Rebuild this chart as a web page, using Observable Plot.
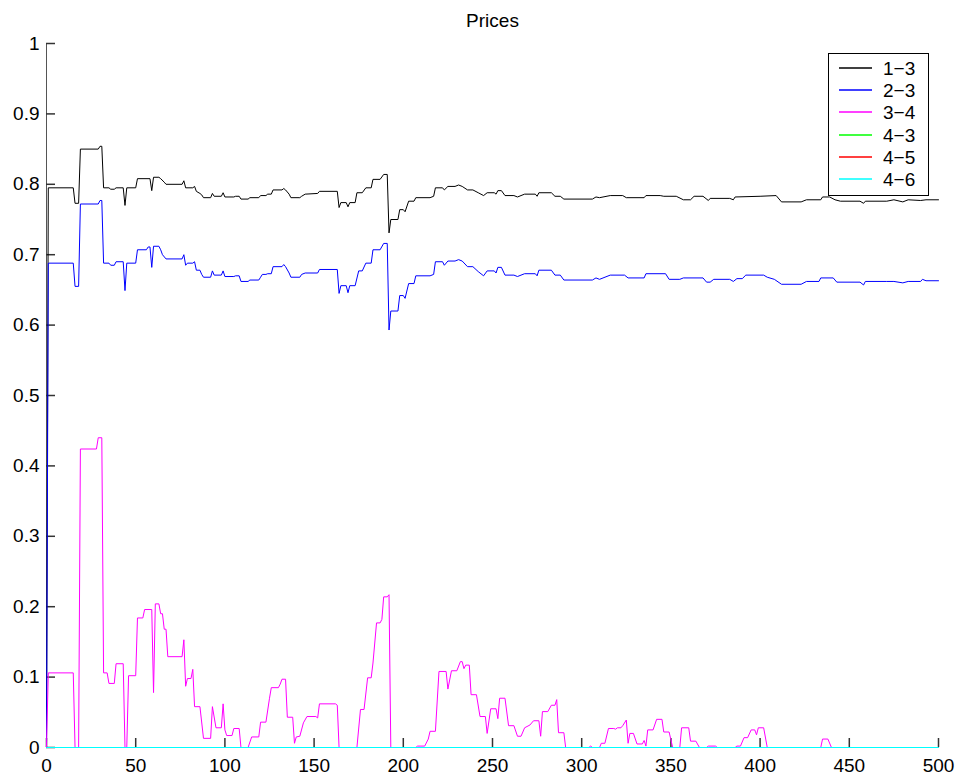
<!DOCTYPE html>
<html><head><meta charset="utf-8">
<script src="https://cdn.jsdelivr.net/npm/d3@7"></script>
<script src="https://cdn.jsdelivr.net/npm/@observablehq/plot@0.6"></script>
<style>
body{margin:0;background:#fff;font-family:"Liberation Sans",Arial,sans-serif;}
#wrap{position:relative;width:960px;height:780px;}
#legend{position:absolute;left:828px;top:53px;}
</style>
</head><body>
<div id="wrap"><div id="chart"></div><div id="legend"></div></div>
<script>
const title = "Prices";
const seriesNames = ["1\u22123","2\u22123","3\u22124","4\u22123","4\u22125","4\u22126"];
const seriesColors = ["#000000","#0000ff","#ff00ff","#00ff00","#ff0000","#00ffff"];
const xTicks = [0,50,100,150,200,250,300,350,400,450,500];
const yTicks = [0,0.1,0.2,0.3,0.4,0.5,0.6,0.7,0.8,0.9,1];

const s13 = [[0,0],[1,0.795],[15,0.795],[16,0.773],[18,0.773],[19,0.850],[29,0.850],[30,0.854],[31,0.854],[32,0.795],[35,0.795],[36,0.793],[38,0.793],[39,0.795],[43,0.795],[44,0.770],[45,0.795],[50,0.795],[51,0.808],[58,0.808],[59,0.791],[60,0.810],[63,0.810],[64,0.808],[66,0.803],[67,0.800],[76,0.800],[77,0.805],[78,0.795],[82,0.795],[83,0.797],[84,0.790],[86,0.787],[87,0.785],[88,0.781],[92,0.781],[93,0.787],[94,0.783],[98,0.783],[99,0.788],[100,0.782],[105,0.782],[106,0.783],[108,0.783],[109,0.779],[113,0.779],[114,0.781],[119,0.781],[120,0.784],[123,0.784],[124,0.786],[126,0.786],[127,0.792],[132,0.792],[133,0.794],[134,0.792],[136,0.786],[137,0.781],[142,0.781],[143,0.783],[145,0.786],[152,0.787],[153,0.790],[163,0.790],[164,0.767],[165,0.774],[168,0.774],[169,0.768],[170,0.774],[173,0.774],[174,0.788],[177,0.788],[179,0.795],[182,0.795],[183,0.807],[187,0.807],[189,0.814],[191,0.814],[192,0.731],[193,0.750],[197,0.750],[198,0.764],[200,0.764],[201,0.761],[203,0.776],[206,0.776],[207,0.781],[215,0.781],[217,0.783],[218,0.795],[222,0.795],[223,0.792],[225,0.797],[229,0.797],[231,0.799],[233,0.797],[236,0.792],[239,0.792],[242,0.788],[245,0.784],[247,0.788],[251,0.788],[252,0.786],[253,0.791],[255,0.791],[257,0.784],[262,0.784],[264,0.782],[268,0.786],[274,0.786],[275,0.783],[276,0.788],[283,0.788],[285,0.783],[288,0.783],[290,0.779],[306,0.779],[308,0.782],[310,0.781],[316,0.784],[323,0.784],[325,0.781],[335,0.781],[336,0.784],[344,0.784],[346,0.783],[353,0.783],[357,0.778],[361,0.778],[363,0.783],[368,0.783],[371,0.777],[372,0.780],[383,0.780],[385,0.778],[386,0.782],[400,0.783],[409,0.784],[412,0.775],[423,0.775],[426,0.778],[434,0.778],[435,0.782],[439,0.782],[442,0.778],[445,0.776],[456,0.776],[458,0.773],[459,0.776],[471,0.776],[475,0.778],[480,0.775],[483,0.778],[490,0.777],[493,0.778],[500,0.778]];

const s23 = [[0,0],[1,0.688],[15,0.688],[16,0.655],[18,0.655],[19,0.772],[29,0.772],[30,0.777],[31,0.777],[32,0.688],[35,0.688],[36,0.685],[38,0.685],[39,0.690],[43,0.690],[44,0.649],[45,0.688],[50,0.688],[51,0.707],[56,0.707],[57,0.711],[58,0.711],[59,0.682],[60,0.712],[63,0.712],[64,0.707],[65,0.700],[67,0.694],[76,0.694],[77,0.700],[78,0.685],[79,0.688],[82,0.688],[83,0.690],[84,0.678],[86,0.678],[87,0.672],[88,0.668],[92,0.668],[93,0.677],[94,0.671],[98,0.671],[99,0.677],[100,0.669],[105,0.669],[106,0.670],[108,0.670],[109,0.662],[113,0.662],[114,0.664],[119,0.664],[120,0.668],[121,0.672],[123,0.672],[124,0.673],[126,0.673],[127,0.683],[132,0.683],[133,0.686],[134,0.683],[136,0.674],[137,0.668],[142,0.668],[143,0.672],[145,0.674],[152,0.674],[153,0.679],[163,0.679],[164,0.645],[165,0.656],[168,0.656],[169,0.646],[170,0.656],[173,0.656],[175,0.677],[177,0.677],[179,0.688],[182,0.688],[183,0.707],[187,0.707],[189,0.716],[191,0.716],[192,0.593],[193,0.620],[197,0.620],[198,0.642],[200,0.642],[201,0.638],[203,0.659],[206,0.659],[207,0.670],[215,0.670],[217,0.672],[218,0.690],[222,0.690],[223,0.685],[225,0.691],[229,0.691],[231,0.693],[233,0.691],[236,0.683],[239,0.683],[242,0.676],[245,0.670],[247,0.677],[251,0.677],[252,0.674],[253,0.682],[255,0.682],[257,0.671],[262,0.671],[264,0.669],[268,0.673],[274,0.673],[275,0.670],[276,0.678],[283,0.678],[285,0.671],[288,0.671],[290,0.664],[306,0.664],[308,0.667],[310,0.665],[316,0.671],[324,0.671],[326,0.667],[335,0.667],[336,0.673],[347,0.673],[349,0.665],[355,0.665],[357,0.667],[368,0.667],[370,0.661],[372,0.661],[374,0.665],[383,0.665],[385,0.662],[387,0.666],[390,0.666],[392,0.671],[402,0.671],[404,0.668],[408,0.665],[412,0.658],[423,0.658],[426,0.662],[433,0.662],[434,0.667],[441,0.667],[443,0.661],[456,0.661],[458,0.657],[459,0.662],[471,0.662],[475,0.662],[480,0.660],[483,0.662],[490,0.662],[491,0.665],[493,0.663],[500,0.663]];

const s34 = [[0,0],[1,0.106],[15,0.106],[16,0],[18,0],[19,0.424],[28,0.424],[29,0.440],[31,0.440],[32,0.106],[34,0.106],[35,0.091],[38,0.091],[39,0.119],[43,0.119],[44,0],[45,0],[46,0.102],[50,0.102],[51,0.184],[54,0.184],[55,0.196],[59,0.196],[60,0.078],[61,0.204],[63,0.204],[64,0.190],[65,0.190],[66,0.168],[67,0.168],[68,0.129],[76,0.129],[77,0.153],[78,0.087],[79,0.098],[81,0.098],[82,0.111],[83,0.058],[86,0.058],[88,0.013],[92,0.013],[93,0.058],[95,0.028],[98,0.028],[99,0.062],[100,0.025],[101,0.017],[104,0.017],[105,0.027],[108,0.027],[109,0],[113,0],[115,0.015],[119,0.015],[120,0.036],[123,0.036],[125,0.070],[126,0.085],[130,0.085],[131,0.090],[132,0.097],[134,0.097],[135,0.043],[138,0.043],[139,0.006],[140,0.015],[142,0.016],[144,0.035],[146,0.044],[151,0.044],[152,0.042],[153,0.062],[162,0.062],[163,0.060],[164,0],[174,0],[176,0.054],[178,0.054],[180,0.099],[182,0.099],[183,0.120],[185,0.177],[187,0.177],[188,0.182],[189,0.214],[191,0.214],[192,0.217],[193,0],[207,0],[208,0.002],[212,0.002],[214,0.012],[215,0.023],[218,0.023],[220,0.108],[224,0.108],[225,0.083],[227,0.109],[230,0.109],[232,0.122],[233,0.122],[234,0.112],[235,0.117],[237,0.117],[238,0.075],[241,0.075],[243,0.044],[246,0.044],[247,0.020],[249,0.055],[252,0.055],[253,0.041],[254,0.070],[257,0.070],[259,0.031],[262,0.031],[264,0.016],[266,0.016],[268,0.028],[271,0.032],[273,0.038],[276,0.038],[277,0.016],[278,0.051],[281,0.051],[283,0.060],[285,0.060],[286,0.068],[287,0.021],[290,0.021],[291,0],[304,0],[305,0.002],[306,0],[310,0],[311,0.006],[313,0.006],[315,0.027],[318,0.027],[319,0.026],[320,0.028],[322,0.028],[323,0.031],[325,0.039],[326,0.006],[327,0.020],[329,0.020],[331,0.005],[334,0.005],[335,0.010],[336,0.002],[337,0.025],[340,0.025],[342,0.040],[345,0.040],[346,0.022],[349,0.022],[351,0],[355,0],[356,0.028],[360,0.028],[361,0.009],[364,0.009],[366,0],[370,0],[371,0.002],[375,0.002],[376,0],[386,0],[387,0.002],[389,0.002],[391,0.014],[393,0.014],[395,0.025],[397,0.025],[398,0.018],[399,0.028],[402,0.028],[404,0],[434,0],[435,0.012],[438,0.012],[440,0],[500,0]];

const s43 = [[0,0],[500,0]];
const s45 = [[0,0],[500,0]];
const s46 = [[0,0],[500,0]];

const allSeries = [s13, s23, s34, s43, s45, s46];

const lineMarks = allSeries.map((s, i) =>
  Plot.line(s, {x: d => d[0], y: d => d[1], stroke: seriesColors[i], strokeWidth: 1}));

const chart = Plot.plot({
  width: 960, height: 780,
  marginLeft: 46, marginRight: 22, marginTop: 43, marginBottom: 33,
  style: {fontFamily: "'Liberation Sans', Arial, sans-serif", fontSize: "19px", background: "#fff", color: "#000"},
  x: {domain: [0, 500]},
  y: {domain: [0, 1]},
  marks: [
    Plot.ruleX([0], {stroke: "#555", strokeWidth: 1}),
    Plot.ruleY([0], {stroke: "#555", strokeWidth: 1}),
    Plot.ruleX(xTicks, {x: d => d, insetTop: 695, stroke: "#333", strokeWidth: 1.5}),
    Plot.ruleY(yTicks, {y: d => d, insetRight: 883, stroke: "#333", strokeWidth: 1.5}),
    Plot.axisX(xTicks, {tickSize: 0, tickPadding: 11, fontSize: 19, fill: "#000", tickFormat: d => String(d)}),
    Plot.axisY(yTicks, {tickSize: 0, tickPadding: 7, fontSize: 19, fill: "#000", tickFormat: d => String(d)}),
    ...lineMarks,
    Plot.text([title], {text: d => d, frameAnchor: "top", dy: -30, fontSize: 19, fill: "#000"})
  ]
});
document.getElementById("chart").appendChild(chart);

// legend (SVG overlay)
const ns = "http://www.w3.org/2000/svg";
const lw = 101, lh = 143;
const lsvg = document.createElementNS(ns, "svg");
lsvg.setAttribute("width", lw); lsvg.setAttribute("height", lh);
lsvg.style.display = "block";
const box = document.createElementNS(ns, "rect");
box.setAttribute("x", 0.5); box.setAttribute("y", 0.5);
box.setAttribute("width", lw - 1); box.setAttribute("height", lh - 1);
box.setAttribute("fill", "#fff"); box.setAttribute("stroke", "#000"); box.setAttribute("stroke-width", 1);
lsvg.appendChild(box);
seriesNames.forEach((name, i) => {
  const cy = Math.round(15 + i * 22.2);
  const ln = document.createElementNS(ns, "line");
  ln.setAttribute("x1", 11); ln.setAttribute("x2", 44);
  ln.setAttribute("y1", cy); ln.setAttribute("y2", cy);
  ln.setAttribute("stroke", seriesColors[i]); ln.setAttribute("stroke-width", 1.5);
  lsvg.appendChild(ln);
  const tx = document.createElementNS(ns, "text");
  tx.setAttribute("x", 55); tx.setAttribute("y", cy);
  tx.setAttribute("dy", "0.35em");
  tx.setAttribute("font-size", 19);
  tx.setAttribute("font-family", "'Liberation Sans', Arial, sans-serif");
  tx.setAttribute("fill", "#000");
  tx.textContent = name;
  lsvg.appendChild(tx);
});
document.getElementById("legend").appendChild(lsvg);
</script>
</body></html>
